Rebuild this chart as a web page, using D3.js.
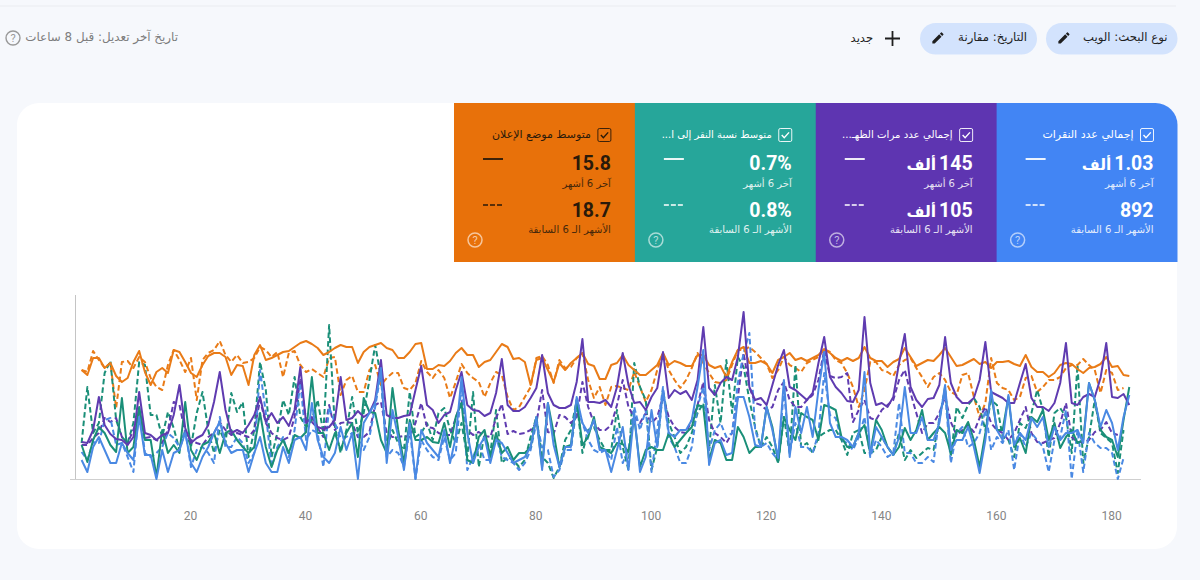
<!DOCTYPE html>
<html lang="ar">
<head>
<meta charset="utf-8">
<script src="https://cdn.jsdelivr.net/npm/d3@7/dist/d3.min.js"></script>
<style>
html,body{margin:0;padding:0;background:#f6f8fc;overflow:hidden}
svg{display:block}
text{font-family:Roboto,"Noto Sans","DejaVu Sans",sans-serif}
.rtl{direction:rtl;text-anchor:start;font-family:"DejaVu Sans",Roboto,sans-serif}
.num{direction:rtl;text-anchor:start;font-family:Roboto,"DejaVu Sans",sans-serif;font-weight:700}
</style>
</head>
<body>
<svg id="c" width="1200" height="580"></svg>
<script>
// ---- tick labels / card text ----
const xTicks = [20,40,60,80,100,120,140,160,180];
const cardTitles = ["متوسط موضع الإعلان","متوسط نسبة النقر إلى ا...","إجمالي عدد مرات الظهـ...","إجمالي عدد النقرات"];
const cardTitleSize = [11,10,10.2,11];
const cardCurrentNum = ["15.8","0.7%","145","1.03"];
const cardPreviousNum = ["18.7","0.8%","105","892"];
const cardCurrentUnit = ["","","ألف","ألف"];
const cardPreviousUnit = ["","","ألف",""];
const cardColors = ["#e8710a","#26a69a","#5e35b1","#4285f4"];
const cardText = ["#2a1a0a","#ffffff","#ffffff","#ffffff"];
const labelCurrent = "آخر 6 أشهر";
const labelPrevious = "الأشهر الـ 6 السابقة";

// ---- series (plotted height on a common 0-184 scale) ----
const positionNow = [109,104,121,121,111,116,103,97,101,117,128,107,94,107,111,106,129,127,117,106,102,114,123,126,126,122,104,114,113,94,124,134,119,121,124,127,128,132,136,138,135,131,124,127,131,134,
132,132,116,127,132,134,136,131,129,121,121,127,135,136,110,110,114,113,118,126,131,124,124,112,117,119,127,135,132,120,121,117,94,119,121,109,97,116,109,116,121,126,115,113,100,100,
114,116,124,114,109,104,104,109,114,126,114,118,116,113,113,124,124,114,111,113,102,117,129,132,116,116,118,115,106,119,122,126,119,121,118,121,124,130,126,121,118,121,118,121,132,121,118,
118,112,117,120,131,122,113,116,119,118,124,131,122,113,114,117,120,115,117,111,117,117,118,115,113,124,112,107,107,102,106,114,116,115,110,106,111,112,115,122,112,113,104,103];
const positionPrev = [109,107,128,119,111,116,71,117,118,111,122,117,101,92,89,114,129,119,107,121,79,119,126,129,138,124,117,124,116,117,121,132,129,122,127,102,126,128,114,107,110,106,102,121,122,84,
99,103,87,87,109,114,94,101,106,106,91,89,96,118,107,101,109,101,81,97,115,106,101,97,82,96,107,104,82,69,72,82,92,121,123,114,96,119,111,112,121,126,99,81,92,74,
92,93,91,89,107,92,77,89,109,126,109,99,91,99,111,126,116,106,97,96,99,114,129,129,132,127,121,115,101,109,122,114,111,107,116,119,122,130,127,119,116,106,92,72,89,117,117,
109,107,103,114,119,121,111,102,92,102,106,99,87,84,104,106,82,62,76,121,96,91,89,79,82,101,103,87,92,99,99,102,111,114,114,120,114,109,86,109,106,89,91];
const impressionsNow = [37,36,49,82,54,45,40,39,34,42,87,46,44,39,44,46,64,94,51,36,41,44,54,77,107,69,46,49,46,54,64,82,57,66,56,62,53,69,112,56,62,52,50,52,59,102,
59,61,68,62,66,79,119,64,61,61,63,64,89,113,74,69,56,64,67,89,107,74,69,68,63,66,86,120,74,68,68,72,81,91,124,86,74,71,71,74,97,140,77,77,76,79,
72,92,126,94,76,77,69,82,91,127,81,89,85,88,79,99,152,91,84,96,102,99,122,167,92,79,81,74,94,114,129,92,89,84,79,86,116,142,102,92,86,78,77,89,162,96,74,
76,72,82,116,145,92,79,72,80,81,94,142,96,82,76,76,81,99,137,87,84,81,76,76,96,115,81,72,72,68,76,96,136,76,74,82,85,82,101,136,82,81,85,74];
const impressionsPrev = [34,34,41,46,61,57,61,42,36,49,69,41,42,39,36,49,77,74,46,39,36,34,42,46,57,49,44,46,44,42,49,79,56,46,41,39,42,62,99,59,57,51,42,74,49,56,
57,56,42,42,47,74,77,46,42,42,43,42,56,76,52,51,46,44,44,61,79,49,44,47,43,42,61,75,45,48,45,46,49,56,89,47,45,64,62,56,62,97,72,56,49,49,
54,74,99,72,62,56,66,56,62,82,62,52,47,46,59,74,97,59,46,42,36,46,82,126,92,76,74,69,72,89,97,79,72,72,79,84,99,129,103,101,102,106,57,69,79,61,59,
69,74,79,99,109,86,66,46,56,56,66,82,57,44,49,54,47,61,72,56,49,46,39,46,59,72,46,37,36,39,41,56,76,42,37,37,39,47,49,57,46,44];
const ctrNow = [34,17,39,52,46,34,27,81,26,32,72,39,39,2,49,26,34,26,77,29,19,34,37,46,26,46,49,39,32,26,32,66,32,12,29,39,26,44,41,47,102,46,46,29,46,29,
46,56,22,81,67,66,39,26,91,49,16,59,39,39,42,37,36,56,32,62,76,19,16,42,49,22,46,26,32,19,26,26,32,62,12,76,46,12,32,34,79,34,42,62,32,29,
26,36,35,27,62,12,29,32,29,29,46,32,39,46,52,74,72,19,39,36,19,19,52,42,26,32,32,72,52,17,62,49,39,66,62,59,39,74,72,69,42,32,32,46,54,26,59,
49,32,24,32,51,39,49,69,39,46,52,46,26,49,46,57,39,12,46,86,49,49,82,32,41,26,62,57,69,39,56,31,42,49,36,39,96,79,49,42,39,22,59,92];
const ctrPrev = [36,92,46,56,106,118,59,42,36,56,117,114,64,64,42,67,51,29,49,32,66,87,49,26,49,36,86,67,77,22,49,117,89,22,46,79,64,102,62,52,59,79,46,154,52,26,
49,82,46,66,99,134,102,29,49,36,29,87,42,46,56,39,66,71,49,36,56,22,87,12,46,26,69,16,22,19,12,19,42,62,22,16,1,12,39,49,79,26,49,52,39,29,
29,69,32,9,116,92,79,9,32,89,56,42,26,32,46,66,76,29,94,56,119,66,122,112,79,52,32,42,32,16,62,26,114,32,36,26,42,46,49,49,39,24,46,49,26,26,29,
42,32,24,46,19,29,21,26,31,29,59,92,22,72,61,74,81,72,49,79,74,42,39,22,56,51,66,89,69,22,66,71,62,26,114,16,42,79,46,41,36,6,49];
const clicksNow = [19,7,32,42,29,16,16,36,26,19,62,24,24,0,29,7,26,29,46,16,7,22,32,46,57,36,26,29,29,7,26,42,16,7,7,32,16,39,42,29,76,39,22,16,26,52,
29,46,0,56,66,76,111,16,69,42,9,56,0,49,36,29,22,49,16,42,102,46,16,32,42,16,39,36,26,16,19,22,32,62,9,76,34,12,32,32,82,56,46,59,29,29,
7,29,52,9,66,7,22,69,32,89,46,42,49,49,59,92,129,14,36,39,24,26,82,82,62,34,32,72,49,21,99,22,72,46,72,42,89,127,56,42,42,39,32,46,107,24,52,
42,32,24,42,92,46,46,62,39,39,56,94,29,39,39,52,32,6,39,89,49,39,84,34,46,39,61,52,62,32,52,39,46,46,49,36,96,79,52,69,56,29,62,84];
const clicksPrev = [27,19,37,36,59,61,34,36,22,7,72,26,22,26,32,46,41,32,49,12,29,32,26,16,62,32,32,42,36,16,26,109,66,12,32,42,22,49,96,39,49,46,12,72,56,41,
42,46,46,29,42,72,107,22,29,26,12,49,0,39,29,22,19,42,19,26,96,9,22,36,19,19,42,22,19,16,9,16,29,56,32,29,2,9,29,29,72,56,39,29,26,29,
19,52,16,29,72,49,69,7,49,92,42,32,16,16,32,72,92,29,49,56,42,46,96,126,146,49,32,36,26,19,89,26,56,32,32,26,46,106,64,61,39,36,29,42,62,22,39,
32,22,26,76,26,26,16,16,22,17,62,86,16,46,52,32,36,46,69,29,42,36,49,9,46,32,46,39,32,7,39,42,69,0,49,7,46,36,31,31,26,0,21];

// ---- draw order and line colours ----
const seriesOrder = [
  {values: positionPrev, color: "#e97b17", dashed: true},
  {values: ctrPrev, color: "#1a8f78", dashed: true},
  {values: impressionsPrev, color: "#5f3bb0", dashed: true},
  {values: clicksPrev, color: "#4a89e3", dashed: true},
  {values: positionNow, color: "#e97b17", dashed: false},
  {values: ctrNow, color: "#1a8f78", dashed: false},
  {values: impressionsNow, color: "#5f3bb0", dashed: false},
  {values: clicksNow, color: "#4a89e3", dashed: false}
];

const svg = d3.select("#c");

// page furniture
svg.append("line").attr("x1",0).attr("x2",1176).attr("y1",6).attr("y2",6).attr("stroke","#eaecf0").attr("stroke-width",1.2);
svg.append("rect").attr("x",17).attr("y",103).attr("width",1160).attr("height",446).attr("rx",22).attr("fill","#fff");

// cards
const cardX = d3.scaleBand().domain(d3.range(cardTitles.length)).range([454,1177.5]);
const pencil = "M3 17.25V21h3.75L17.81 9.94l-3.75-3.75L3 17.25zM20.71 7.04a1 1 0 0 0 0-1.41l-2.34-2.34a1 1 0 0 0-1.41 0l-1.83 1.83 3.75 3.75 1.83-1.83z";
function bigValue(g,r,yy,num,unit,tc){
  const t = g.append("text").attr("class","num").attr("x",r).attr("y",yy).attr("font-size",19.5).attr("fill",tc);
  t.append("tspan").text(num);
  if(unit) t.append("tspan").attr("font-size",15.5).attr("font-family","DejaVu Sans").attr("dx",-3).text(unit);
}
cardTitles.forEach((title,i)=>{
  const x = cardX(i), w = cardX.bandwidth(), r = x + w - 24, tc = cardText[i];
  const g = svg.append("g");
  if(i===cardTitles.length-1){
    g.append("path").attr("d",`M${x} 103H${x+w-22}a22 22 0 0 1 22 22V262H${x}Z`).attr("fill",cardColors[i]);
  } else {
    g.append("rect").attr("x",x).attr("y",103).attr("width",w+0.5).attr("height",159).attr("fill",cardColors[i]);
  }
  g.append("rect").attr("x",r-13).attr("y",128.5).attr("width",13).attr("height",13).attr("rx",1.5).attr("fill","none").attr("stroke",tc).attr("stroke-width",.9);
  g.append("path").attr("d",`M${r-10} 135l2.5 2.8l4.8-5.4`).attr("fill","none").attr("stroke",tc).attr("stroke-width",1.4);
  g.append("text").attr("class","rtl").attr("x",r-20).attr("y",138).attr("font-size",cardTitleSize[i]).attr("fill",tc).text(title);
  bigValue(g,r,170,cardCurrentNum[i],cardCurrentUnit[i],tc);
  g.append("text").attr("class","rtl").attr("x",r).attr("y",187).attr("font-size",10).attr("fill",tc).attr("opacity",.85).text(labelCurrent);
  bigValue(g,r,217,cardPreviousNum[i],cardPreviousUnit[i],tc);
  g.append("text").attr("class","rtl").attr("x",r).attr("y",233).attr("font-size",10).attr("fill",tc).attr("opacity",.85).text(labelPrevious);
  g.append("line").attr("x1",x+29).attr("x2",x+49).attr("y1",159).attr("y2",159).attr("stroke",tc).attr("stroke-width",1.8);
  g.append("line").attr("x1",x+29).attr("x2",x+48).attr("y1",205).attr("y2",205).attr("stroke",tc).attr("stroke-width",1.6).attr("stroke-dasharray","5 2");
  g.append("circle").attr("cx",x+21).attr("cy",240).attr("r",7).attr("fill","none").attr("stroke","#fff").attr("stroke-opacity",.6).attr("stroke-width",1.5);
  g.append("text").attr("x",x+21).attr("y",244).attr("text-anchor","middle").attr("font-size",11).attr("fill","#fff").attr("fill-opacity",.65).text("?");
});

// chips
[{x:1046,w:131.5,cx:1064,t:"نوع البحث: الويب"},{x:920,w:117,cx:938,t:"التاريخ: مقارنة"}].forEach(c=>{
  svg.append("rect").attr("x",c.x).attr("y",23).attr("width",c.w).attr("height",31.5).attr("rx",15.7).attr("fill","#d3e3fd");
  svg.append("path").attr("d",pencil).attr("transform",`translate(${c.cx-7.5},${30.5}) scale(.62)`).attr("fill","#1f1f1f");
  svg.append("text").attr("class","rtl").attr("x",c.x+c.w-10).attr("y",41).attr("font-size",11.7).attr("fill","#1f1f1f").text(c.t);
});
svg.append("path").attr("d","M892.5 31V46M885 38.5H900").attr("stroke","#1f1f1f").attr("stroke-width",1.8).attr("fill","none");
svg.append("text").attr("class","rtl").attr("x",873).attr("y",42).attr("font-size",11.5).attr("fill","#1f1f1f").text("جديد");
svg.append("text").attr("class","rtl").attr("x",178).attr("y",41).attr("font-size",11.9).attr("fill","#7d7d7d").text("تاريخ آخر تعديل: قبل 8 ساعات");
svg.append("circle").attr("cx",13).attr("cy",38).attr("r",7).attr("fill","none").attr("stroke","#999").attr("stroke-width",1.4);
svg.append("text").attr("x",13).attr("y",42).attr("text-anchor","middle").attr("font-size",11).attr("fill","#999").text("?");

// chart
const x = d3.scaleLinear().domain([1,183]).range([81.6,1129.3]);
const y = d3.scaleLinear().domain([0,184]).range([479,295]);

svg.append("line").attr("x1",75.5).attr("x2",75.5).attr("y1",295).attr("y2",479).attr("stroke","#c4c4c4");
svg.append("line").attr("x1",70).attr("x2",1141).attr("y1",479.5).attr("y2",479.5).attr("stroke","#cfcfcf").attr("stroke-width",1.2);

const line = d3.line().x((d,i)=>x(i+1)).y(d=>y(d));
svg.append("g").selectAll("path").data(seriesOrder).join("path")
  .attr("d",d=>line(d.values))
  .attr("fill","none")
  .attr("stroke",d=>d.color)
  .attr("stroke-width",2)
  .attr("stroke-dasharray",d=>d.dashed?"5.5 3":null)
  .attr("stroke-linejoin","round");

const axis = d3.axisBottom(x).tickValues(xTicks).tickSize(0).tickPadding(0).tickFormat(d3.format("d"));
const ax = svg.append("g").attr("transform","translate(-1,511)").call(axis);
ax.select(".domain").remove();
ax.selectAll("text").attr("font-size",12).attr("fill","#858585").attr("font-family","Roboto,sans-serif");
</script>
</body>
</html>
